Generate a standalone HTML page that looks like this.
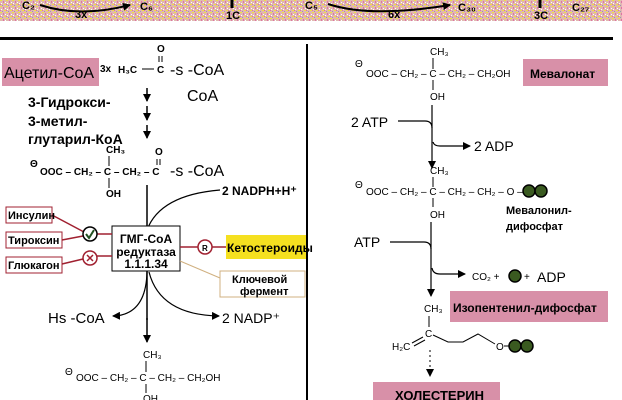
<!DOCTYPE html>
<html><head><meta charset="utf-8"><style>
html,body{margin:0;padding:0;background:#fff;}
svg{display:block;}
text{font-family:"Liberation Sans",sans-serif;fill:#000;}
.b{font-weight:bold;}
</style></head><body>
<svg width="622" height="400" viewBox="0 0 622 400" xmlns="http://www.w3.org/2000/svg">
<defs>
<pattern id="noise" width="6" height="6" patternUnits="userSpaceOnUse">
<rect width="6" height="6" fill="#e0b8b0"/>
<rect x="0" y="0" width="2" height="1" fill="#f0e040"/><rect x="3" y="1" width="1" height="2" fill="#e070a8"/>
<rect x="1" y="3" width="1" height="1" fill="#fff"/><rect x="4" y="4" width="2" height="1" fill="#f0e040"/>
<rect x="2" y="5" width="1" height="1" fill="#a090b8"/><rect x="5" y="2" width="1" height="1" fill="#fff"/>
<rect x="0" y="4" width="1" height="1" fill="#e070a8"/>
</pattern>
<marker id="ar" markerWidth="8" markerHeight="8" refX="7" refY="4" orient="auto" markerUnits="userSpaceOnUse"><path d="M0,0 L8,4 L0,8z" fill="#000"/></marker>
</defs>
<rect x="0" y="0" width="622" height="21" fill="url(#noise)"/>
<g class="b" font-size="11">
<text x="22" y="9">C₂</text><path d="M40,5 Q80,18 130,5" stroke="#000" stroke-width="2" fill="none" marker-end="url(#ar)"/><text x="75" y="18">3x</text><text x="140" y="10">C₆</text>
<text x="226" y="19">1C</text><path d="M232,0 L232,8" stroke="#000" stroke-width="3"/>
<text x="305" y="9">C₅</text><path d="M328,4 Q370,18 450,5" stroke="#000" stroke-width="2" fill="none" marker-end="url(#ar)"/><text x="388" y="18">6x</text><text x="458" y="11">C₃₀</text>
<text x="534" y="19">3C</text><path d="M540,0 L540,8" stroke="#000" stroke-width="3"/><text x="572" y="11">C₂₇</text>
</g>
<rect x="0" y="37" width="613" height="3" fill="#000"/>
<rect x="306" y="44" width="2" height="356" fill="#000"/>

<!-- LEFT -->
<rect x="2" y="58" width="97" height="28" fill="#d890a8"/>
<text x="4" y="78" font-size="16">Ацетил-CoA</text>
<g font-size="10" class="b"><text x="100" y="72">3x</text><text x="118" y="73">H₃C</text></g>
<path d="M142,69 H154" stroke="#000"/>
<text x="157" y="52" font-size="10" class="b">O</text><path d="M159,56 V62 M162,56 V62" stroke="#000"/>
<text x="157" y="73" font-size="10" class="b">C</text>
<text x="170" y="75" font-size="16">-s -CoA</text>
<text x="187" y="101" font-size="16">CoA</text>
<g stroke="#000" stroke-width="1.5" fill="none" marker-end="url(#ar)"><path d="M147,88 V101"/><path d="M147,106 V120"/><path d="M147,125 V138"/></g>
<g font-size="14" class="b"><text x="28" y="107">3-Гидрокси-</text><text x="28" y="126">3-метил-</text><text x="28" y="144">глутарил-КоА</text></g>
<g font-size="10" class="b">
<text x="30" y="167">Θ</text><text x="40" y="175">OOC – CH₂ – C – CH₂ – C</text>
<text x="106" y="153">CH₃</text><text x="106" y="197">OH</text>
<text x="155" y="155">O</text>
</g>
<path d="M109,156 V166 M109,178 V188 M157,159 V165 M160,159 V165" stroke="#000"/>
<text x="170" y="176" font-size="16">-s -CoA</text>
<path d="M147,185 V320" stroke="#000" stroke-width="1.5"/>
<path d="M147,230 Q160,195 220,190" stroke="#000" fill="none" stroke-width="1.2"/>
<text x="222" y="195" font-size="12" class="b">2 NADPH+H⁺</text>
<rect x="112" y="226" width="68" height="45" fill="#fff" stroke="#000"/>
<g font-size="12" class="b" text-anchor="middle"><text x="146" y="243">ГМГ-CoA</text><text x="146" y="256">редуктаза</text><text x="146" y="268">1.1.1.34</text></g>
<g stroke="#a02030" stroke-width="1.5" fill="none"><path d="M52,215 L84,232 M62,240 L83,236 M62,264 L83,259 M97,234 H112 M97,256 H112 M180,247 H198 M212,247 H227"/></g>
<g font-size="11" class="b">
<rect x="6" y="207" width="46" height="16" fill="#fff" stroke="#a02030"/><text x="8" y="219">Инсулин</text>
<rect x="6" y="232" width="56" height="16" fill="#fff" stroke="#a02030"/><text x="8" y="244">Тироксин</text>
<rect x="6" y="257" width="56" height="16" fill="#fff" stroke="#a02030"/><text x="8" y="269">Глюкагон</text>
</g>
<circle cx="90" cy="234" r="7" fill="#fff" stroke="#000" stroke-width="1.5"/><path d="M86,234 L89,238 L94,230" stroke="#205020" stroke-width="2" fill="none"/>
<circle cx="90" cy="258" r="7" fill="#fff" stroke="#a02030" stroke-width="1.5"/><path d="M87,255 L93,261 M93,255 L87,261" stroke="#a02030" stroke-width="1.5"/>
<circle cx="205" cy="247" r="7" fill="#fff" stroke="#a02030" stroke-width="1.5"/><text x="202" y="251" font-size="8" class="b">R</text>
<rect x="226" y="235" width="80" height="24" fill="#f5e020"/><text x="227" y="252" font-size="12" class="b">Кетостероиды</text>
<path d="M180,261 L220,278" stroke="#d0b080"/>
<rect x="220" y="271" width="85" height="26" fill="#fff" stroke="#d0b080"/>
<g font-size="11" class="b"><text x="232" y="283">Ключевой</text><text x="240" y="295">фермент</text></g>
<path d="M147,272 Q146,315 113,316" stroke="#000" fill="none" stroke-width="1.2" marker-end="url(#ar)"/>
<path d="M149,272 Q160,315 219,316" stroke="#000" fill="none" stroke-width="1.2" marker-end="url(#ar)"/>
<text x="48" y="323" font-size="15">Hs -CoA</text>
<text x="222" y="323" font-size="14">2 NADP⁺</text>
<path d="M147,318 V342" stroke="#000" stroke-width="1.5" marker-end="url(#ar)"/>
<g font-size="10">
<text x="143" y="358">CH₃</text>
<text x="65" y="375">Θ</text><text x="76" y="381">OOC – CH₂ – C – CH₂ – CH₂OH</text>
<text x="143" y="402">OH</text>
</g>
<path d="M146,361 V372 M146,384 V393" stroke="#000"/>

<!-- RIGHT -->
<g font-size="10">
<text x="355" y="67">Θ</text><text x="366" y="77">OOC – CH₂ – C – CH₂ – CH₂OH</text>
<text x="430" y="55">CH₃</text><text x="430" y="100">OH</text>
</g>
<path d="M433,58 V69 M433,80 V90" stroke="#000"/>
<rect x="523" y="59" width="85" height="27" fill="#d890a8"/><text x="530" y="78" font-size="12" class="b">Мевалонат</text>
<text x="351" y="127" font-size="14">2 ATP</text>
<path d="M398,121 H425 Q432,121 432,128" stroke="#000" fill="none" stroke-width="1.2"/>
<path d="M432,105 V168" stroke="#000" stroke-width="1.2" marker-end="url(#ar)"/>
<path d="M433,142 Q434,146 440,146 H470" stroke="#000" fill="none" stroke-width="1.2" marker-end="url(#ar)"/>
<text x="474" y="151" font-size="14">2 ADP</text>
<g font-size="10">
<text x="430" y="174">CH₃</text>
<text x="355" y="188">Θ</text><text x="366" y="195">OOC – CH₂ – C – CH₂ – CH₂ – O –</text>
<text x="430" y="218">OH</text>
</g>
<path d="M433,177 V187 M433,198 V207" stroke="#000"/>
<circle cx="529" cy="191" r="6" fill="#3a5a20" stroke="#000" stroke-width="1.5"/><circle cx="541" cy="191" r="6" fill="#3a5a20" stroke="#000" stroke-width="1.5"/>
<g font-size="11" class="b"><text x="506" y="214">Мевалонил-</text><text x="506" y="230">дифосфат</text></g>
<text x="354" y="247" font-size="14">ATP</text>
<path d="M390,242 H424 Q431,242 431,249" stroke="#000" fill="none" stroke-width="1.2"/>
<path d="M431,222 V296" stroke="#000" stroke-width="1.2" marker-end="url(#ar)"/>
<path d="M432,268 Q433,274 440,274 H465" stroke="#000" fill="none" stroke-width="1.2" marker-end="url(#ar)"/>
<text x="472" y="280" font-size="10">CO₂ +</text>
<circle cx="515" cy="276" r="6" fill="#3a5a20" stroke="#000" stroke-width="1.5"/>
<text x="524" y="280" font-size="10">+</text>
<text x="537" y="282" font-size="14">ADP</text>
<rect x="450" y="291" width="158" height="31" fill="#d890a8"/><text x="453" y="312" font-size="12" class="b">Изопентенил-дифосфат</text>
<g font-size="10">
<text x="424" y="312">CH₃</text><text x="425" y="337">C</text><text x="392" y="350">H₂C</text><text x="496" y="350">O</text>
</g>
<path d="M429,316 V327 M412,343 L423,337 M414,346 L425,340 M433,335 L448,342 L463,342 L478,334 L495,344 M504,346 H509" stroke="#000" fill="none"/>
<circle cx="515" cy="346" r="6" fill="#3a5a20" stroke="#000" stroke-width="1.5"/><circle cx="527" cy="346" r="6" fill="#3a5a20" stroke="#000" stroke-width="1.5"/>
<path d="M430,350 V376" stroke="#000" stroke-dasharray="2,3" marker-end="url(#ar)"/>
<rect x="373" y="382" width="127" height="18" fill="#d890a8"/><text x="395" y="400" font-size="13" class="b">ХОЛЕСТЕРИН</text>
</svg>
</body></html>
